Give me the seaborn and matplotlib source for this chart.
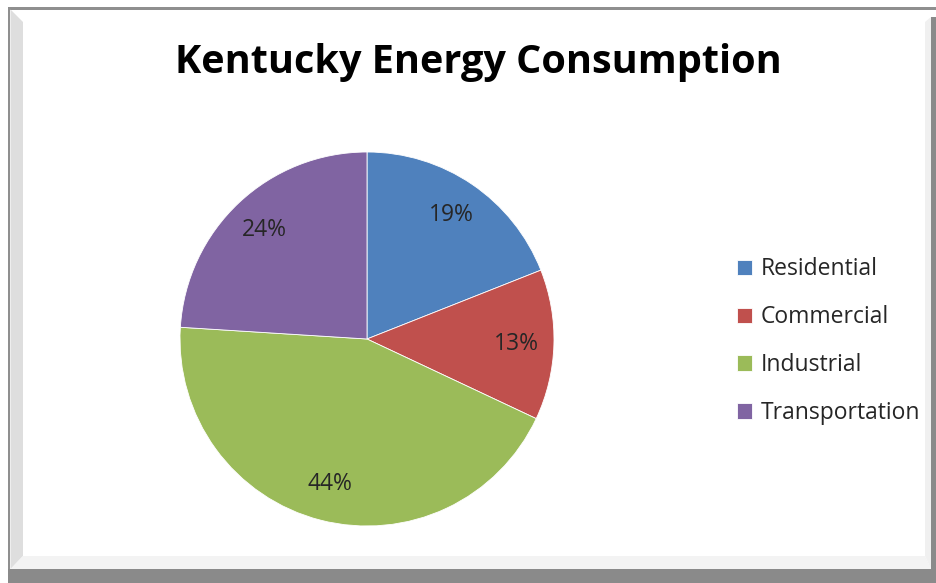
import matplotlib
matplotlib.use("Agg")
import matplotlib.pyplot as plt
import seaborn as sns
from matplotlib.patches import Rectangle, Polygon

sns.set_theme(style="white")
plt.rcParams["font.family"] = ["Open Sans", "DejaVu Sans"]

categories = ["Residential", "Commercial", "Industrial", "Transportation"]
shares = [19, 13, 44, 24]
colors = ["#4F81BD", "#C0504D", "#9BBB59", "#8064A2"]
title = "Kentucky Energy Consumption"

W, H = 937, 583
fig = plt.figure(figsize=(W / 100, H / 100), dpi=100)
fig.patch.set_facecolor("white")

def fx(x):
    return x / W

def fy(y):
    return 1 - y / H

# frame: drop shadow on the right and bottom, thin line on the top/left, bevel on the left
frame = fig.add_axes([0, 0, 1, 1])
frame.set_xlim(0, W)
frame.set_ylim(H, 0)
frame.axis("off")
frame.add_patch(Rectangle((8, 7), W - 8, 2.5, color="#8f8f8f", lw=0))
frame.add_patch(Rectangle((8, 7), 2.5, 563, color="#8f8f8f", lw=0))
frame.add_patch(Rectangle((931, 17), 6, 566, color="#8a8a8a", lw=0))
frame.add_patch(Rectangle((8, 569), W - 8, 14, color="#8a8a8a", lw=0))
frame.add_patch(Polygon([(10.5, 9.5), (23, 22), (23, 556), (10.5, 569)],
                        closed=True, color="#dedede", lw=0))
frame.add_patch(Polygon([(10.5, 569), (23, 556), (925, 556), (931, 569)],
                        closed=True, color="#f3f3f3", lw=0))
frame.add_patch(Polygon([(925, 556), (925, 22), (931, 17), (931, 569)],
                        closed=True, color="#f0f0f0", lw=0))

fig.text(fx(478), fy(62), title, ha="center", va="center",
         fontsize=28.5, fontweight="bold", color="black")

cx, cy, r = 367, 339, 187
ax = fig.add_axes([fx(cx - r), fy(cy + r), 2 * r / W, 2 * r / H])
wedges, texts, autotexts = ax.pie(
    shares, colors=colors, startangle=90, counterclock=False,
    autopct=lambda p: f"{p:.0f}%", pctdistance=0.8,
    wedgeprops=dict(linewidth=0.6, edgecolor="white"),
    textprops=dict(fontsize=16.5, color="#262626"),
)
ax.set_xlim(-1, 1)
ax.set_ylim(-1, 1)
ax.set_aspect("equal")

leg = fig.legend(wedges, categories, loc="upper left",
                 bbox_to_anchor=(fx(726), fy(246)), frameon=False,
                 fontsize=16.5, handlelength=0.65, handleheight=0.65,
                 handletextpad=0.35, labelspacing=1.04, borderpad=0)
for t in leg.get_texts():
    t.set_color("#262626")

fig.savefig("out.png", dpi=100, facecolor="white")
